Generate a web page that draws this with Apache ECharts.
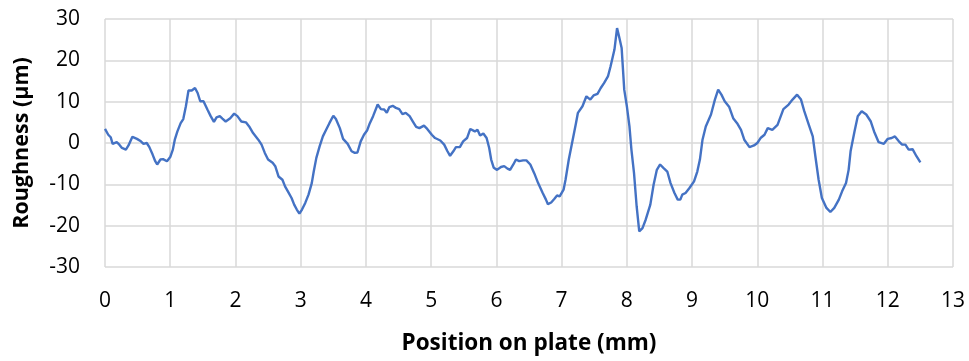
<!DOCTYPE html>
<html>
<head>
<meta charset="utf-8">
<script src="https://cdn.jsdelivr.net/npm/echarts@6/dist/echarts.min.js"></script>
<style>html,body{margin:0;padding:0;background:#fff}#c{width:969px;height:361px}</style>
</head>
<body>
<div id="c"></div>
<script>
var positions = [0,0.05,0.087,0.117,0.18,0.22,0.26,0.32,0.36,0.42,0.49,0.55,0.59,0.64,0.68,0.73,0.77,0.80,0.85,0.89,0.95,1.0,1.04,1.07,1.11,1.16,1.20,1.24,1.28,1.33,1.38,1.42,1.46,1.51,1.57,1.62,1.67,1.71,1.76,1.80,1.85,1.92,1.98,2.03,2.09,2.16,2.21,2.27,2.35,2.40,2.45,2.50,2.57,2.61,2.66,2.72,2.76,2.81,2.86,2.90,2.94,2.98,3.02,3.07,3.12,3.17,3.20,3.24,3.29,3.34,3.39,3.44,3.50,3.54,3.60,3.65,3.72,3.78,3.83,3.87,3.92,3.97,4.02,4.06,4.11,4.18,4.23,4.28,4.32,4.36,4.41,4.46,4.51,4.56,4.61,4.67,4.72,4.77,4.82,4.89,4.94,5.01,5.06,5.14,5.20,5.25,5.29,5.34,5.38,5.44,5.49,5.55,5.60,5.63,5.67,5.71,5.75,5.80,5.85,5.89,5.92,5.96,6.01,6.07,6.12,6.17,6.21,6.26,6.30,6.35,6.41,6.46,6.52,6.58,6.64,6.71,6.76,6.79,6.84,6.89,6.93,6.97,7.03,7.06,7.11,7.17,7.22,7.25,7.32,7.38,7.44,7.49,7.55,7.60,7.65,7.71,7.75,7.81,7.85,7.88,7.92,7.96,8.0,8.04,8.07,8.11,8.15,8.19,8.24,8.29,8.36,8.41,8.46,8.51,8.56,8.62,8.67,8.73,8.78,8.82,8.85,8.90,8.96,9.03,9.08,9.12,9.16,9.21,9.29,9.35,9.40,9.45,9.50,9.57,9.63,9.69,9.75,9.80,9.88,9.95,10.0,10.05,10.11,10.16,10.23,10.31,10.40,10.48,10.54,10.61,10.67,10.72,10.79,10.85,10.89,10.94,10.99,11.06,11.12,11.18,11.25,11.30,11.36,11.40,11.43,11.49,11.54,11.60,11.67,11.74,11.79,11.86,11.94,12.0,12.06,12.11,12.17,12.22,12.27,12.32,12.38,12.44,12.50];
var roughness = [3.4,2.0,1.4,-0.2,0.2,-0.4,-1.2,-1.6,-0.6,1.5,1.0,0.4,-0.2,0,-1.0,-2.8,-4.4,-5.2,-4.0,-3.9,-4.4,-3.4,-1.6,0.8,2.8,4.8,5.8,8.9,12.7,12.7,13.3,12.1,10.1,10.1,8.1,6.5,5.1,6.2,6.5,5.9,5.2,6.0,7.1,6.5,5.2,5.0,4.0,2.4,0.8,-0.4,-2.4,-4.0,-4.8,-5.6,-8.1,-8.9,-10.5,-11.9,-13.3,-14.9,-16.1,-17.1,-16.1,-14.5,-12.5,-9.7,-6.9,-3.6,-0.8,1.6,3.2,4.8,6.6,5.8,3.6,1.0,-0.2,-2.0,-2.4,-2.3,0.4,2.0,3.1,4.8,6.5,9.3,8.2,8.1,7.3,8.7,9.0,8.5,8.2,7.0,7.3,6.5,5.2,3.9,3.6,4.2,3.4,2.0,1.2,0.6,-0.4,-2.0,-3.1,-2.0,-1.0,-1.0,0.4,1.2,3.4,3.4,2.8,3.2,1.8,2.3,1.2,-1.2,-4.0,-6.0,-6.5,-5.8,-5.6,-6.2,-6.5,-5.2,-4.0,-4.4,-4.2,-4.2,-5.2,-7.3,-9.7,-12.1,-13.7,-14.8,-14.4,-13.5,-12.7,-12.9,-11.3,-8.9,-4.0,0.8,4.8,7.3,8.9,11.3,10.5,11.5,11.9,13.3,14.5,16.1,18.5,22.6,27.8,25.8,23.0,12.9,8.9,4.0,-1.6,-7.3,-15.3,-21.4,-20.6,-18.5,-14.9,-10.1,-6.5,-5.2,-6.0,-6.9,-9.7,-12.1,-13.7,-13.7,-12.5,-12.1,-10.9,-9.3,-6.9,-4.0,0.8,4.0,6.9,10.5,12.9,11.7,10.1,8.7,6.0,4.8,3.2,0.8,-1.0,-0.6,0,1.2,2.0,3.6,3.2,4.4,8.2,9.3,10.5,11.7,10.5,7.7,4.4,1.6,-3.2,-8.9,-13.3,-15.7,-16.7,-15.7,-13.7,-11.7,-9.7,-6.5,-2.0,2.8,6.5,7.7,6.9,5.2,2.8,0.2,-0.2,1.0,1.2,1.6,0.4,-0.4,-0.4,-1.6,-1.5,-3.2,-4.7];
var xTitle = 'Position on plate (mm)';
var yTitle = 'Roughness (µm)';

var data = positions.map(function (x, i) { return [x, roughness[i]]; });
var chart = echarts.init(document.getElementById('c'));
var font = '"Open Sans", sans-serif';
chart.setOption({
  animation: false,
  grid: { left: 105, right: 16, top: 19, bottom: 94 },
  xAxis: {
    type: 'value', min: 0, max: 13, interval: 1,
    name: xTitle, nameLocation: 'middle', nameGap: 65,
    nameTextStyle: { fontFamily: font, fontSize: 22.5, fontWeight: 'bold', color: '#000' },
    axisLine: { show: false }, axisTick: { show: false },
    axisLabel: { fontFamily: font, fontSize: 21, color: '#000', margin: 24 },
    splitLine: { show: true, lineStyle: { color: '#d9d9d9', width: 1.5 } }
  },
  yAxis: {
    type: 'value', min: -30, max: 30, interval: 10,
    name: yTitle, nameLocation: 'middle', nameGap: 72,
    nameTextStyle: { fontFamily: font, fontSize: 21.5, fontWeight: 'bold', color: '#000' },
    axisLine: { show: false }, axisTick: { show: false },
    axisLabel: { fontFamily: font, fontSize: 21, color: '#000', margin: 25 },
    splitLine: { show: true, lineStyle: { color: '#d9d9d9', width: 1.5 } }
  },
  series: [{
    type: 'line', data: data, showSymbol: false, symbol: 'none',
    lineStyle: { color: '#4472C4', width: 2.4 }
  }]
});
</script>
</body>
</html>
